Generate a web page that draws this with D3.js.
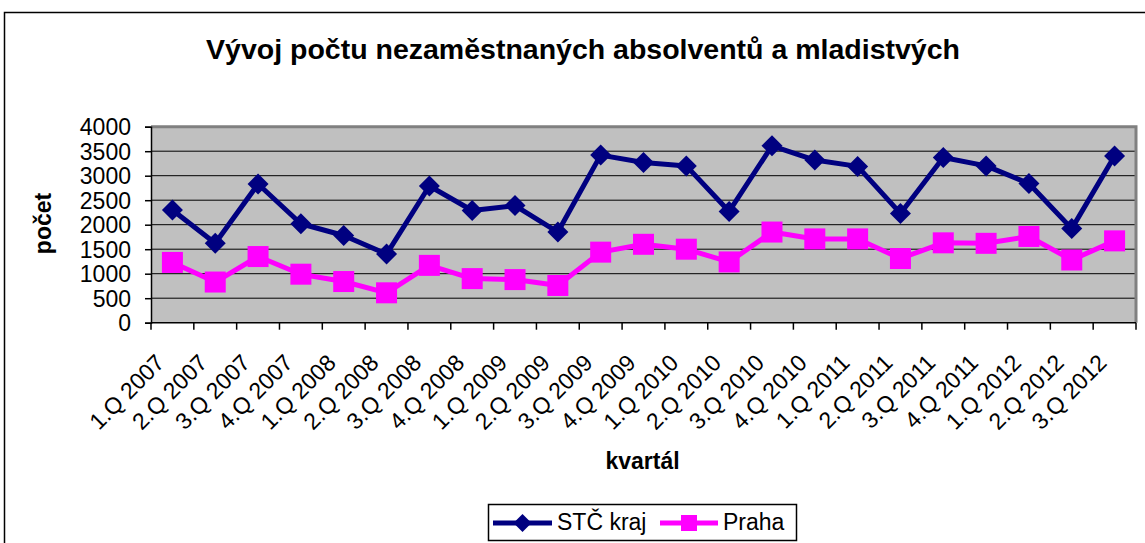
<!DOCTYPE html>
<html>
<head>
<meta charset="utf-8">
<script src="https://cdn.jsdelivr.net/npm/d3@7"></script>
<style>
  body { margin: 0; background: #fff; }
  svg { display: block; font-family: "Liberation Sans", Arial, sans-serif; }
</style>
</head>
<body>
<div id="chart"></div>
<script>
const categories = [
  '1.Q 2007', '2.Q 2007', '3.Q 2007', '4.Q 2007',
  '1.Q 2008', '2.Q 2008', '3.Q 2008', '4.Q 2008',
  '1.Q 2009', '2.Q 2009', '3.Q 2009', '4.Q 2009',
  '1.Q 2010', '2.Q 2010', '3.Q 2010', '4.Q 2010',
  '1.Q 2011', '2.Q 2011', '3.Q 2011', '4.Q 2011',
  '1.Q 2012', '2.Q 2012', '3.Q 2012'
];
const stcKraj = [2300, 1620, 2830, 2020, 1780, 1400, 2790, 2290, 2390, 1850, 3420, 3270,
  3200, 2270, 3610, 3320, 3190, 2230, 3370, 3200, 2840, 1920, 3400];
const praha = [1230, 830, 1350, 990, 840, 610, 1170, 900, 880, 760, 1440, 1600,
  1500, 1240, 1850, 1710, 1710, 1310, 1630, 1620, 1760, 1280, 1670];
const yTicks = [0, 500, 1000, 1500, 2000, 2500, 3000, 3500, 4000];

const width = 1145, height = 543;
const plot = { left: 151, right: 1136, top: 126.7, bottom: 322.7 };

const svg = d3.select('#chart').append('svg')
  .attr('width', width)
  .attr('height', height);

// outer chart frame
svg.append('rect')
  .attr('x', 4.5).attr('y', 12.5)
  .attr('width', width + 20).attr('height', height + 20)
  .attr('fill', '#fff')
  .attr('stroke', '#000')
  .attr('stroke-width', 1.5);

const x = d3.scaleBand()
  .domain(categories)
  .range([plot.left, plot.right]);

const y = d3.scaleLinear()
  .domain([0, 4000])
  .range([plot.bottom, plot.top]);

// plot background
svg.append('rect')
  .attr('x', plot.left).attr('y', plot.top)
  .attr('width', plot.right - plot.left)
  .attr('height', plot.bottom - plot.top)
  .attr('fill', '#c0c0c0');

// gridlines
svg.append('g')
  .selectAll('line')
  .data(yTicks.slice(1, -1))
  .enter()
  .append('line')
  .attr('x1', plot.left).attr('x2', plot.right)
  .attr('y1', d => y(d)).attr('y2', d => y(d))
  .attr('stroke', '#000')
  .attr('stroke-width', 1);

// gray plot border (top and right)
svg.append('path')
  .attr('d', `M${plot.left},${plot.top}H${plot.right}V${plot.bottom}`)
  .attr('fill', 'none')
  .attr('stroke', '#808080')
  .attr('stroke-width', 3);

// y axis
const yAxis = svg.append('g')
  .attr('transform', `translate(${plot.left},0)`)
  .call(d3.axisLeft(y).tickValues(yTicks).tickSize(6).tickPadding(14).tickFormat(d3.format('d')));
yAxis.select('.domain').attr('stroke', '#000').attr('stroke-width', 1.5);
yAxis.selectAll('.tick line').attr('stroke', '#000').attr('stroke-width', 1.5);
yAxis.selectAll('text')
  .attr('font-size', 23)
  .attr('fill', '#000')
  .attr('dy', '0.36em');

// x axis: ticks on category boundaries
const xAxis = svg.append('g');
xAxis.append('line')
  .attr('x1', plot.left).attr('x2', plot.right)
  .attr('y1', plot.bottom).attr('y2', plot.bottom)
  .attr('stroke', '#000').attr('stroke-width', 1.5);
xAxis.selectAll('.tk')
  .data(categories.concat(['end']))
  .enter()
  .append('line')
  .attr('class', 'tk')
  .attr('x1', (d, i) => i < categories.length ? x(d) : plot.right)
  .attr('x2', (d, i) => i < categories.length ? x(d) : plot.right)
  .attr('y1', plot.bottom).attr('y2', plot.bottom + 7)
  .attr('stroke', '#000').attr('stroke-width', 1.5);
xAxis.selectAll('.lbl')
  .data(categories)
  .enter()
  .append('text')
  .attr('class', 'lbl')
  .attr('text-anchor', 'end')
  .attr('font-size', 23)
  .attr('transform', d => `translate(${x(d) + x.bandwidth() / 2 - 6.5},${plot.bottom + 41.5}) rotate(-45)`)
  .text(d => d);

// axis titles
svg.append('text')
  .attr('transform', 'translate(51,223.5) rotate(-90)')
  .attr('text-anchor', 'middle')
  .attr('font-size', 23)
  .attr('font-weight', 'bold')
  .text('počet');

svg.append('text')
  .attr('x', 642.5).attr('y', 468.5)
  .attr('text-anchor', 'middle')
  .attr('font-size', 23)
  .attr('font-weight', 'bold')
  .text('kvartál');

// title
svg.append('text')
  .attr('x', 583).attr('y', 58.5)
  .attr('text-anchor', 'middle')
  .attr('font-size', 28.5)
  .attr('font-weight', 'bold')
  .text('Vývoj počtu nezaměstnaných absolventů a mladistvých');

// lines
const cx = d => x(d) + x.bandwidth() / 2;
const line = d3.line()
  .x(d => cx(d.cat))
  .y(d => y(d.v));

const series = [
  { name: 'STČ kraj', values: stcKraj, color: '#000080', marker: 'diamond' },
  { name: 'Praha', values: praha, color: '#ff00ff', marker: 'square' }
];

const diamond = s => `M0,${-s}L${s},0L0,${s}L${-s},0Z`;

series.forEach(s => {
  const pts = s.values.map((v, i) => ({ cat: categories[i], v }));
  svg.append('path')
    .datum(pts)
    .attr('d', line)
    .attr('fill', 'none')
    .attr('stroke', s.color)
    .attr('stroke-width', 5)
    .attr('stroke-linejoin', 'round');
  const g = svg.append('g').selectAll('.m')
    .data(pts)
    .enter();
  if (s.marker === 'diamond') {
    g.append('path')
      .attr('transform', d => `translate(${cx(d.cat)},${y(d.v)})`)
      .attr('d', diamond(10.5))
      .attr('fill', s.color);
  } else {
    g.append('rect')
      .attr('x', d => cx(d.cat) - 10.5)
      .attr('y', d => y(d.v) - 10.5)
      .attr('width', 21).attr('height', 21)
      .attr('fill', s.color);
  }
});

// legend
const legend = svg.append('g');
legend.append('rect')
  .attr('x', 488.5).attr('y', 504.5)
  .attr('width', 308).attr('height', 36)
  .attr('fill', '#fff')
  .attr('stroke', '#000')
  .attr('stroke-width', 1.5);

const legendItems = [
  { s: series[0], x0: 493, x1: 552, tx: 557 },
  { s: series[1], x0: 660, x1: 718, tx: 723 }
];
legendItems.forEach(it => {
  const ly = 523;
  const mx = (it.x0 + it.x1) / 2;
  legend.append('line')
    .attr('x1', it.x0).attr('x2', it.x1)
    .attr('y1', ly).attr('y2', ly)
    .attr('stroke', it.s.color).attr('stroke-width', 5);
  if (it.s.marker === 'diamond') {
    legend.append('path')
      .attr('transform', `translate(${mx},${ly})`)
      .attr('d', diamond(9))
      .attr('fill', it.s.color);
  } else {
    legend.append('rect')
      .attr('x', mx - 8).attr('y', ly - 8)
      .attr('width', 16).attr('height', 16)
      .attr('fill', it.s.color);
  }
  legend.append('text')
    .attr('x', it.tx).attr('y', 530)
    .attr('font-size', 23)
    .text(it.s.name);
});
</script>
</body>
</html>
